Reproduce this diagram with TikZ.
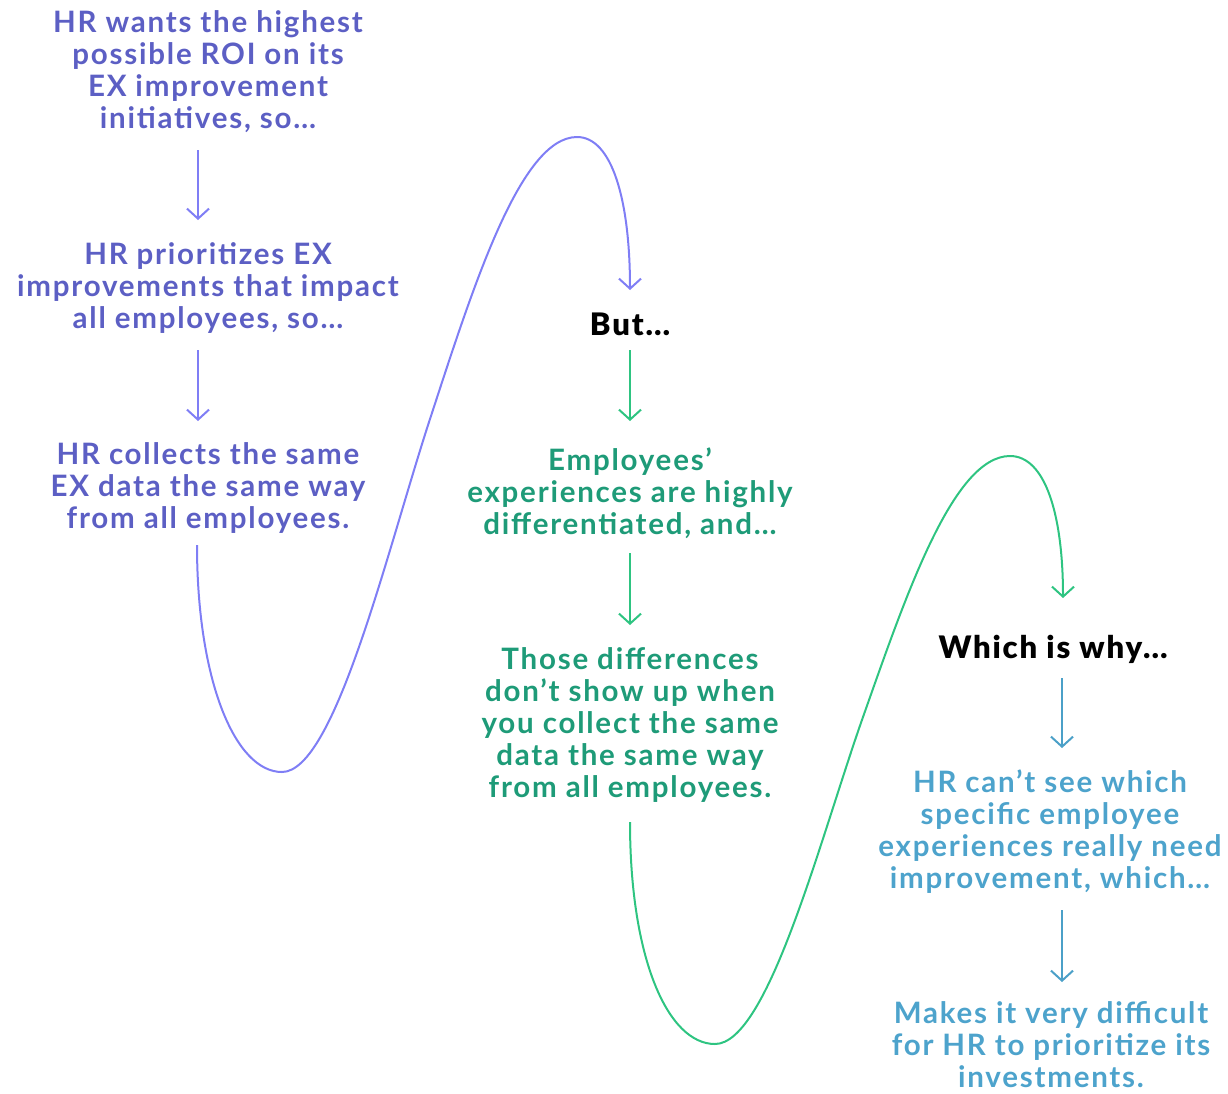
\documentclass[tikz,border=0pt]{standalone}
\usepackage{fontspec}
\setmainfont{Lato}[LetterSpace=6]
\newfontfamily\heavyfont{Lato Black}[LetterSpace=6]
\usetikzlibrary{arrows.meta}
\definecolor{purpletxt}{HTML}{5C5FC4}
\definecolor{purpleln}{HTML}{7F7EF5}
\definecolor{greentxt}{HTML}{1E9B78}
\definecolor{greenln}{HTML}{2EC481}
\definecolor{bluetxt}{HTML}{4DA3CC}
\definecolor{blueln}{HTML}{4BA0C8}
\tikzset{
  txt/.style={align=center, inner sep=0pt, font=\bfseries\fontsize{29.5}{32}\selectfont},
  ptxt/.style={txt, text=purpletxt},
  gtxt/.style={txt, text=greentxt},
  btxt/.style={txt, text=bluetxt},
  ktxt/.style={align=center, inner sep=0pt, text=black, font=\heavyfont\fontsize{31}{32}\selectfont},
  flow/.style={line width=2pt, -{Straight Barb[length=10pt,width=22pt,line width=2pt]}},
  parr/.style={flow, draw=purpleln},
  garr/.style={flow, draw=greenln},
  barr/.style={flow, draw=blueln},
}
\begin{document}
\begin{tikzpicture}[x=1pt,y=-1pt]
\useasboundingbox (0,0) rectangle (1228,1093);

% left column
\node[ptxt] (t1) at (208,72) {HR wants the highest\\possible ROI on its\\EX improvement\\initiatives, so…};
\node[ptxt] (t2) at (208,288) {HR prioritizes EX\\improvements that impact\\all employees, so…};
\node[ptxt] (t3) at (208,488) {HR collects the same\\EX data the same way\\from all employees.};

% middle column
\node[ktxt] (but) at (630,324) {But…};
\node[gtxt] (t4) at (630,493) {Employees’\\experiences are highly\\differentiated, and…};
\node[gtxt] (t5) at (630,725) {Those differences\\don’t show up when\\you collect the same\\data the same way\\from all employees.};

% right column
\node[ktxt] (why) at (1053,649) {Which is why…};
\node[btxt] (t6) at (1050,832) {HR can’t see which\\specific employee\\experiences really need\\improvement, which…};
\node[btxt] (t7) at (1051,1045) {Makes it very difficult\\for HR to prioritize its\\investments.};

% straight connectors
\draw[parr] (198,150) -- (198,220);
\draw[parr] (198,350) -- (198,421);
\draw[garr] (but.south |- 0,350) -- (but.south |- 0,421);
\draw[garr] (630,553) -- (630,625);
\draw[barr] (1062,678) -- (1062,748);
\draw[barr] (1062,910) -- (1062,982);

% looping connectors
\draw[parr] (197,545)
  .. controls (197,680) and (235,772) .. (282,772)
  .. controls (335,772) and (387.5,549) .. (430,419)
  .. controls (472.5,289) and (520,137) .. (577,137)
  .. controls (612,137) and (630,200) .. (630,290);
\draw[garr] (630,822)
  .. controls (630,959) and (668,1044) .. (715,1044)
  .. controls (768,1044) and (820.5,837.5) .. (863,717)
  .. controls (905.5,596.8) and (953,456) .. (1010,456)
  .. controls (1045,456) and (1063,514) .. (1063,598);
\end{tikzpicture}
\end{document}
